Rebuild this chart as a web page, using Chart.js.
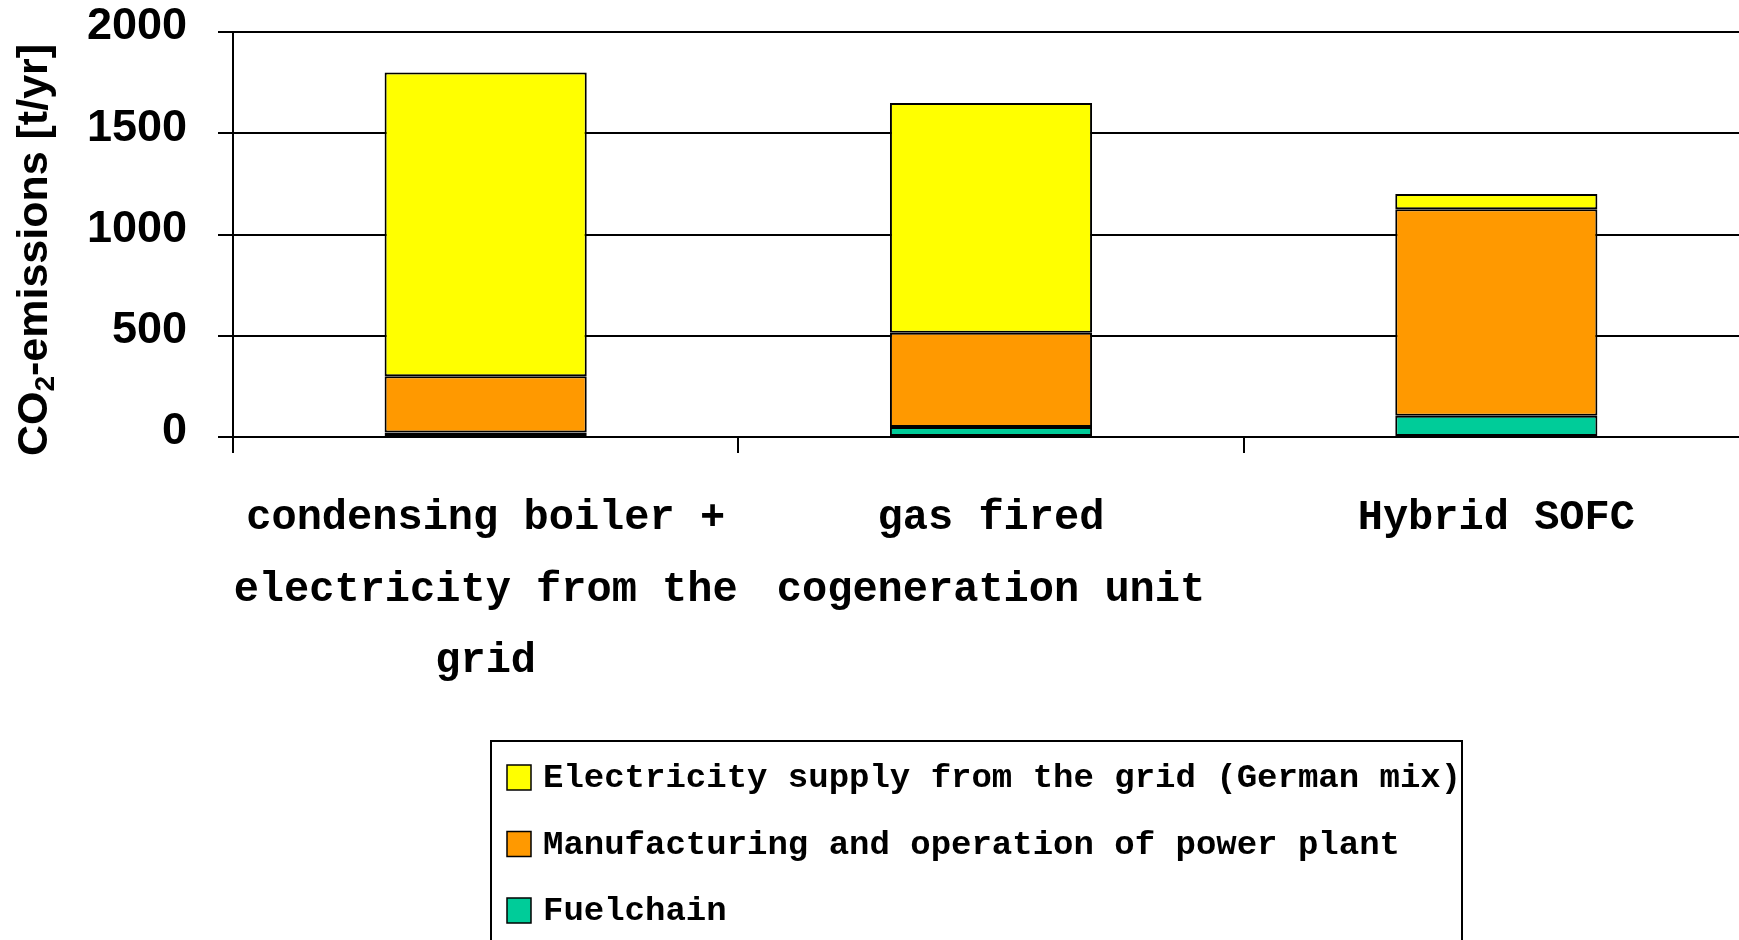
<!DOCTYPE html>
<html>
<head>
<meta charset="utf-8">
<script src="https://cdn.jsdelivr.net/npm/chart.js@4/dist/chart.umd.min.js"></script>
<style>
  html, body { margin: 0; padding: 0; background: #fff; overflow: hidden; }
  #wrap { position: absolute; left: 0; top: 0; width: 1760px; height: 940px; }
</style>
</head>
<body>
<div id="wrap"><canvas id="c"></canvas></div>
<script>
const categories = [
  ["condensing boiler +", "electricity from the", "grid"],
  ["gas fired", "cogeneration unit"],
  ["Hybrid SOFC"]
];
const seriesNames = [
  "Fuelchain",
  "Manufacturing and operation of power plant",
  "Electricity supply from the grid (German mix)"
];
const fuelchain     = [22, 50, 105];
const manufacturing = [278, 465, 1020];
const electricity   = [1500, 1135, 75];
const seriesColors  = ["#00CC99", "#FF9900", "#FFFF00"];
const yTicks = [0, 500, 1000, 1500, 2000];
const yTitleMain = ["CO", "2", "-emissions [t/yr]"];

const titlePlugin = {
  id: 'yTitle',
  afterDraw(chart) {
    const ctx = chart.ctx;
    ctx.save();
    ctx.translate(47, 250);
    ctx.rotate(-Math.PI / 2);
    ctx.fillStyle = '#000';
    ctx.textBaseline = 'alphabetic';
    const big = 'bold 43px "Liberation Sans", Arial, sans-serif';
    const small = 'bold 28px "Liberation Sans", Arial, sans-serif';
    ctx.font = big; const w1 = ctx.measureText(yTitleMain[0]).width;
    const w3 = ctx.measureText(yTitleMain[2]).width;
    ctx.font = small; const w2 = ctx.measureText(yTitleMain[1]).width;
    let x = -(w1 + w2 + w3) / 2;
    ctx.textAlign = 'left';
    ctx.font = big; ctx.fillText(yTitleMain[0], x, 0); x += w1;
    ctx.font = small; ctx.fillText(yTitleMain[1], x, 7); x += w2;
    ctx.font = big; ctx.fillText(yTitleMain[2], x, 0);
    ctx.restore();
  }
};

const legendPlugin = {
  id: 'boxLegend',
  afterDraw(chart) {
    const ctx = chart.ctx;
    ctx.save();
    ctx.strokeStyle = '#000';
    ctx.lineWidth = 2;
    ctx.strokeRect(491, 741, 971, 240);
    const ds = chart.data.datasets.slice().reverse();
    ds.forEach((d, i) => {
      const cy = 777.5 + i * 66.5;
      ctx.fillStyle = d.backgroundColor;
      ctx.fillRect(507, cy - 12.5, 24, 25);
      ctx.strokeStyle = '#000';
      ctx.lineWidth = 1.5;
      ctx.strokeRect(507, cy - 12.5, 24, 25);
      ctx.fillStyle = '#000';
      ctx.font = 'bold 34px "Liberation Mono", "Courier New", monospace';
      ctx.textAlign = 'left';
      ctx.textBaseline = 'middle';
      ctx.fillText(d.label, 543, cy + 1);
    });
    ctx.restore();
  }
};

new Chart(document.getElementById('c'), {
  type: 'bar',
  data: {
    labels: categories,
    datasets: [
      { label: seriesNames[0], data: fuelchain, backgroundColor: seriesColors[0] },
      { label: seriesNames[1], data: manufacturing, backgroundColor: seriesColors[1] },
      { label: seriesNames[2], data: electricity, backgroundColor: seriesColors[2] }
    ].map(d => Object.assign(d, {
      borderColor: '#000', borderWidth: 2, borderSkipped: false,
      categoryPercentage: 1.0, barPercentage: 0.4
    }))
  },
  options: {
    responsive: true,
    maintainAspectRatio: false,
    animation: false,
    layout: { padding: { top: 32, right: 11, bottom: 0, left: 0 } },
    plugins: { legend: { display: false }, tooltip: { enabled: false } },
    scales: {
      x: {
        stacked: true,
        afterFit(s) { s.height = 503; s.paddingLeft = 0; s.paddingRight = 0; },
        grid: { display: true, drawOnChartArea: false, drawTicks: true, tickLength: 16, color: '#000', lineWidth: 2, offset: true },
        border: { display: true, color: '#000', width: 2 },
        ticks: {
          color: '#000', padding: 30, maxRotation: 0, minRotation: 0, autoSkip: false,
          font: { family: '"Liberation Mono", "Courier New", monospace', size: 42, weight: 'bold', lineHeight: 1.70 }
        }
      },
      y: {
        stacked: true,
        min: yTicks[0], max: yTicks[yTicks.length - 1],
        afterFit(s) { s.width = 233; s.paddingTop = 0; s.paddingBottom = 0; },
        afterBuildTicks(s) { s.ticks = yTicks.map(v => ({ value: v })); },
        grid: { color: '#000', lineWidth: 2, drawTicks: true, tickLength: 15 },
        border: { display: true, color: '#000', width: 2 },
        ticks: {
          color: '#000', padding: 31, labelOffset: -5,
          callback: (v) => String(v),
          font: { family: '"Liberation Sans", Arial, sans-serif', size: 45, weight: 'bold' }
        }
      }
    }
  },
  plugins: [titlePlugin, legendPlugin]
});
</script>
</body>
</html>
